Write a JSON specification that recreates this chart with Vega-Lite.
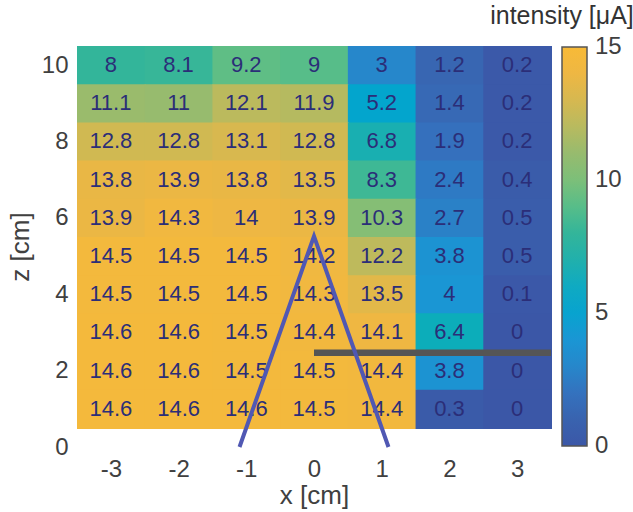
{
  "$schema": "https://vega.github.io/schema/vega-lite/v6.json",
  "width": 474,
  "height": 401,
  "autosize": "none",
  "padding": {"left": 77, "top": 46, "right": 82, "bottom": 65},
  "background": "white",
  "config": {
    "view": {"stroke": null},
    "font": "Liberation Sans",
    "axis": {"grid": false, "domain": false, "ticks": false, "labelFontSize": 24, "labelColor": "#404040", "labelFont": "Liberation Sans", "titleFontSize": 26, "titleFontWeight": "normal", "titleColor": "#404040", "titleFont": "Liberation Sans", "labelExpr": "'' + datum.value"},
    "axisX": {"labelPadding": 10, "titlePadding": 1},
    "axisY": {"labelPadding": 9, "titlePadding": 8}
  },
  "datasets": {
    "cells": [
      {"x": -3, "z": 10, "v": 8}, {"x": -2, "z": 10, "v": 8.1}, {"x": -1, "z": 10, "v": 9.2}, {"x": 0, "z": 10, "v": 9}, {"x": 1, "z": 10, "v": 3}, {"x": 2, "z": 10, "v": 1.2}, {"x": 3, "z": 10, "v": 0.2},
      {"x": -3, "z": 9, "v": 11.1}, {"x": -2, "z": 9, "v": 11}, {"x": -1, "z": 9, "v": 12.1}, {"x": 0, "z": 9, "v": 11.9}, {"x": 1, "z": 9, "v": 5.2}, {"x": 2, "z": 9, "v": 1.4}, {"x": 3, "z": 9, "v": 0.2},
      {"x": -3, "z": 8, "v": 12.8}, {"x": -2, "z": 8, "v": 12.8}, {"x": -1, "z": 8, "v": 13.1}, {"x": 0, "z": 8, "v": 12.8}, {"x": 1, "z": 8, "v": 6.8}, {"x": 2, "z": 8, "v": 1.9}, {"x": 3, "z": 8, "v": 0.2},
      {"x": -3, "z": 7, "v": 13.8}, {"x": -2, "z": 7, "v": 13.9}, {"x": -1, "z": 7, "v": 13.8}, {"x": 0, "z": 7, "v": 13.5}, {"x": 1, "z": 7, "v": 8.3}, {"x": 2, "z": 7, "v": 2.4}, {"x": 3, "z": 7, "v": 0.4},
      {"x": -3, "z": 6, "v": 13.9}, {"x": -2, "z": 6, "v": 14.3}, {"x": -1, "z": 6, "v": 14}, {"x": 0, "z": 6, "v": 13.9}, {"x": 1, "z": 6, "v": 10.3}, {"x": 2, "z": 6, "v": 2.7}, {"x": 3, "z": 6, "v": 0.5},
      {"x": -3, "z": 5, "v": 14.5}, {"x": -2, "z": 5, "v": 14.5}, {"x": -1, "z": 5, "v": 14.5}, {"x": 0, "z": 5, "v": 14.2}, {"x": 1, "z": 5, "v": 12.2}, {"x": 2, "z": 5, "v": 3.8}, {"x": 3, "z": 5, "v": 0.5},
      {"x": -3, "z": 4, "v": 14.5}, {"x": -2, "z": 4, "v": 14.5}, {"x": -1, "z": 4, "v": 14.5}, {"x": 0, "z": 4, "v": 14.3}, {"x": 1, "z": 4, "v": 13.5}, {"x": 2, "z": 4, "v": 4}, {"x": 3, "z": 4, "v": 0.1},
      {"x": -3, "z": 3, "v": 14.6}, {"x": -2, "z": 3, "v": 14.6}, {"x": -1, "z": 3, "v": 14.5}, {"x": 0, "z": 3, "v": 14.4}, {"x": 1, "z": 3, "v": 14.1}, {"x": 2, "z": 3, "v": 6.4}, {"x": 3, "z": 3, "v": 0},
      {"x": -3, "z": 2, "v": 14.6}, {"x": -2, "z": 2, "v": 14.6}, {"x": -1, "z": 2, "v": 14.5}, {"x": 0, "z": 2, "v": 14.5}, {"x": 1, "z": 2, "v": 14.4}, {"x": 2, "z": 2, "v": 3.8}, {"x": 3, "z": 2, "v": 0},
      {"x": -3, "z": 1, "v": 14.6}, {"x": -2, "z": 1, "v": 14.6}, {"x": -1, "z": 1, "v": 14.6}, {"x": 0, "z": 1, "v": 14.5}, {"x": 1, "z": 1, "v": 14.4}, {"x": 2, "z": 1, "v": 0.3}, {"x": 3, "z": 1, "v": 0}
    ],
    "tri": [
      {"lx": -1.1, "lz": 0},
      {"lx": 0, "lz": 5.52},
      {"lx": 1.1, "lz": 0}
    ],
    "bar": [
      {"lx": 0, "lz": 2.47},
      {"lx": 3.5, "lz": 2.47}
    ]
  },
  "layer": [
    {
      "data": {"name": "cells"},
      "mark": {"type": "rect", "binSpacing": 0, "xOffset": 0.5, "x2Offset": -0.5, "yOffset": -0.5, "y2Offset": 0.5},
      "encoding": {
        "x": {"field": "x", "type": "quantitative", "bin": {"step": 1, "extent": [-3.5, 3.5], "nice": false, "anchor": -3.5}, "scale": {"domain": [-3.5, 3.5], "nice": false, "zero": false}, "axis": {"title": "x [cm]", "values": [-3, -2, -1, 0, 1, 2, 3]}},
        "y": {"field": "z", "type": "quantitative", "bin": {"step": 1, "extent": [0.5, 10.5], "nice": false, "anchor": 0.5}, "scale": {"domain": [0, 10.5], "nice": false, "zero": false}, "axis": {"title": "z [cm]", "values": [0, 2, 4, 6, 8, 10]}},
        "color": {
          "field": "v", "type": "quantitative",
          "scale": {
            "domain": [0, 1, 2, 3, 4, 5, 6, 7, 8, 9, 10, 11, 12, 13, 14, 15],
            "range": ["#3B57A7", "#3963AF", "#3472BE", "#2687CB", "#1A96D4", "#08A3CF", "#0FAAC2", "#21B0AC", "#33B59A", "#57BD89", "#7CBF79", "#97BB6E", "#B8BA5F", "#D6B850", "#EEB743", "#F8BA37"]
          },
          "legend": {
            "type": "gradient",
            "orient": "none", "legendX": 413, "legendY": -42, "direction": "vertical",
            "gradientLength": 399, "gradientThickness": 25,
            "gradientStrokeColor": "#555555", "gradientStrokeWidth": 1.5,
            "values": [0, 5, 10, 15], "labelOverlap": false,
            "labelFontSize": 24, "labelColor": "#404040", "labelOffset": 8, "labelFont": "Liberation Sans",
            "title": "intensity [μA]", "titleOrient": "top", "titleAnchor": "start", "titleAlign": "center",
            "titleFontSize": 25, "titleFontWeight": "normal", "titleColor": "#333333", "titleFont": "Liberation Sans",
            "titlePadding": 18, "titleLimit": 300,
            "encode": {"labels": {"update": {"baseline": {"value": "middle"}}}}
          }
        }
      }
    },
    {
      "data": {"name": "cells"},
      "mark": {"type": "text", "fontSize": 22, "color": "#2b2e78", "font": "Liberation Sans", "baseline": "middle", "align": "center"},
      "encoding": {
        "x": {"field": "x", "type": "quantitative", "axis": {"title": "x [cm]", "values": [-3, -2, -1, 0, 1, 2, 3]}},
        "y": {"field": "z", "type": "quantitative", "axis": {"title": "z [cm]", "values": [0, 2, 4, 6, 8, 10]}},
        "text": {"field": "v", "type": "nominal"}
      }
    },
    {
      "data": {"name": "bar"},
      "mark": {"type": "line", "color": "#555555", "strokeWidth": 6.5, "strokeCap": "butt"},
      "encoding": {
        "x": {"field": "lx", "type": "quantitative", "axis": {"title": "x [cm]", "values": [-3, -2, -1, 0, 1, 2, 3]}},
        "y": {"field": "lz", "type": "quantitative", "axis": {"title": "z [cm]", "values": [0, 2, 4, 6, 8, 10]}}
      }
    },
    {
      "data": {"name": "tri"},
      "mark": {"type": "line", "color": "#5058b3", "strokeWidth": 4, "strokeCap": "butt", "strokeJoin": "miter"},
      "encoding": {
        "x": {"field": "lx", "type": "quantitative", "axis": {"title": "x [cm]", "values": [-3, -2, -1, 0, 1, 2, 3]}},
        "y": {"field": "lz", "type": "quantitative", "axis": {"title": "z [cm]", "values": [0, 2, 4, 6, 8, 10]}}
      }
    }
  ]
}
